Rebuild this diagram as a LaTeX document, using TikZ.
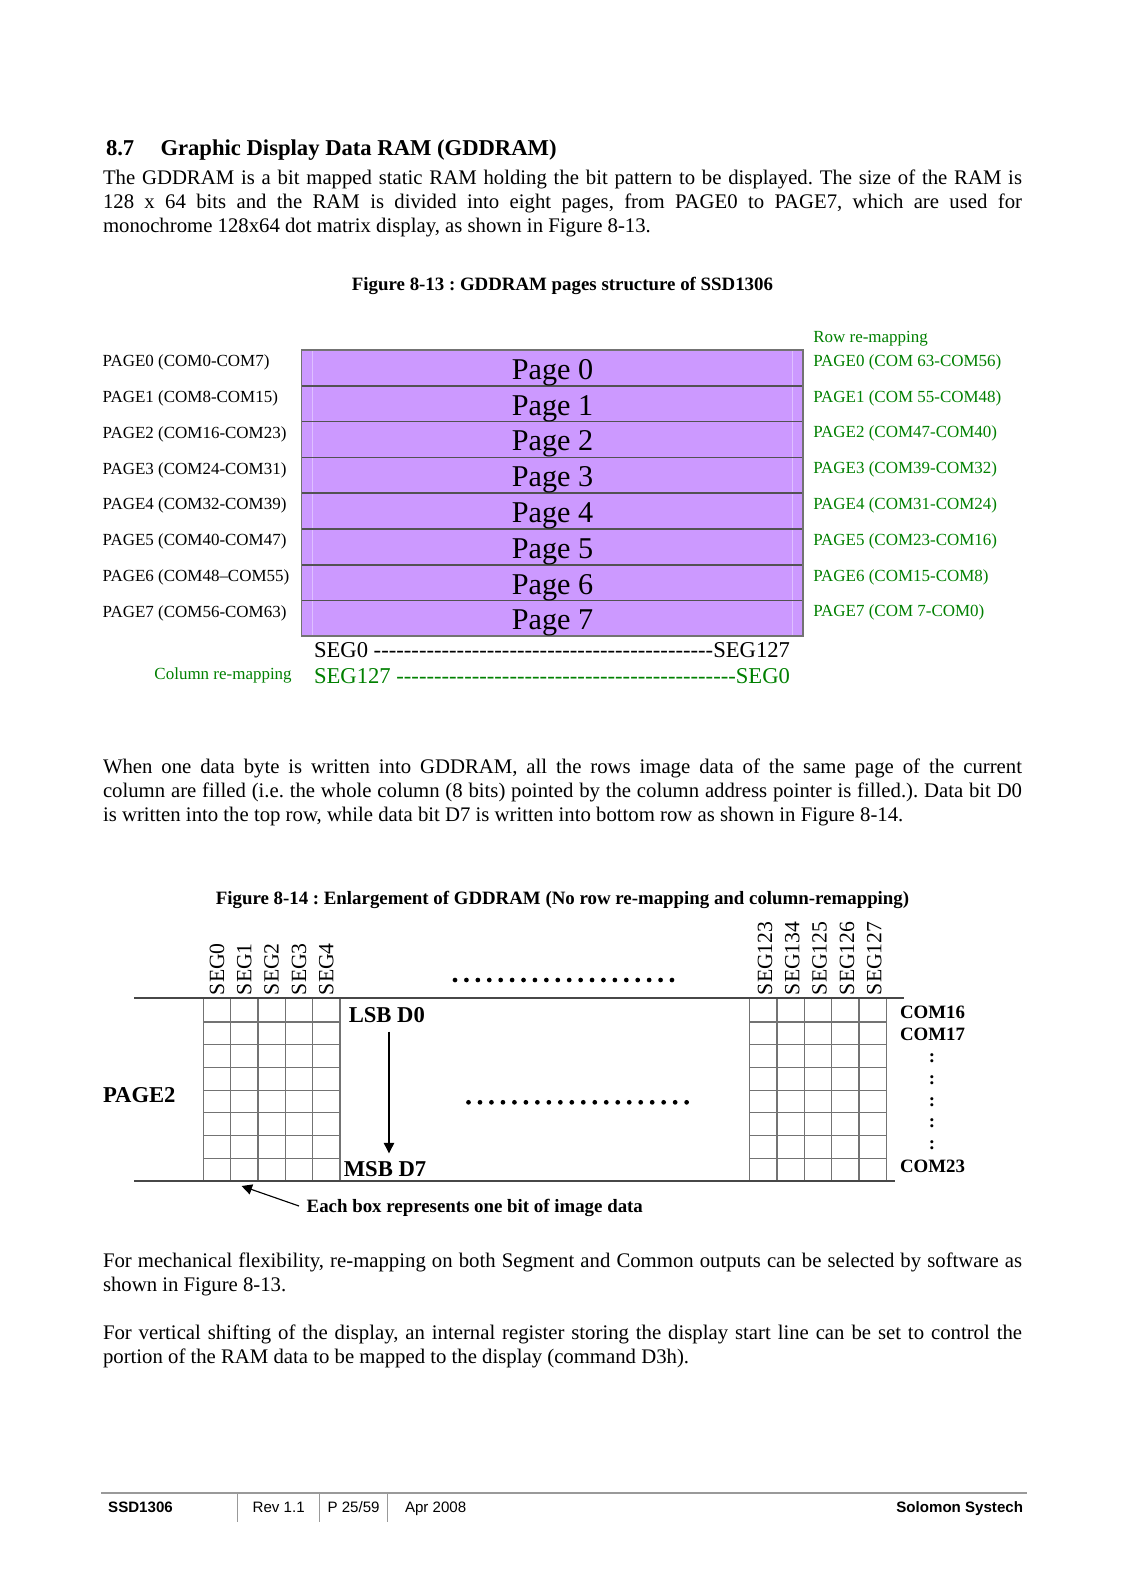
\documentclass[tikz,border=0pt]{standalone}
\usepackage{fontspec}
\setmainfont{Liberation Serif}
\newfontfamily\arialf{Liberation Sans}
\usetikzlibrary{arrows.meta}
\newdimen\pxu \pxu=0.53013pt
\frenchspacing
\definecolor{pagepurple}{HTML}{CC99FF}
\definecolor{pageline}{HTML}{DEBFFF}
\definecolor{remapgreen}{HTML}{008000}
\tikzset{
 txt/.style={inner sep=0pt, outer sep=0pt, anchor=base west},
 body/.style={txt, font=\fontsize{11}{13}\selectfont\frenchspacing},
 headtxt/.style={txt, font=\fontsize{12}{14}\selectfont\bfseries},
 captxt/.style={txt, anchor=base, font=\fontsize{10}{12}\selectfont\bfseries},
 sidelbl/.style={txt, font=\fontsize{9}{11}\selectfont},
 greenlbl/.style={sidelbl, text=remapgreen},
 pagelbl/.style={txt, anchor=base, font=\fontsize{16}{18}\selectfont},
 seglbl/.style={txt, font=\fontsize{12}{14}\selectfont},
 vseg/.style={inner sep=0pt, outer sep=0pt, anchor=west, rotate=90, font=\fontsize{11.5}{13}\selectfont},
 boldlbl/.style={txt, font=\fontsize{12}{14}\selectfont\bfseries},
 comlbl/.style={txt, font=\fontsize{10}{12}\selectfont\bfseries},
 rowline/.style={draw=black!68, line width=0.9pt},
 boxborder/.style={draw=black!55, line width=1pt},
 gridline/.style={draw=black!55, line width=0.6pt},
 rule/.style={draw=black!72, line width=0.9pt},
 arr/.style={draw=black, line width=0.6pt, -{Triangle[length=5.5pt, width=5.5pt]}},
 footline/.style={draw=black!40, line width=1.1pt},
 footsep/.style={draw=black!40, line width=0.7pt},
 foottxt/.style={txt, font=\arialf\fontsize{8}{10}\selectfont},
}
\begin{document}
\begin{tikzpicture}[x=0.53013pt, y=-0.53013pt]
\fill[white] (0,0) rectangle (1123,1593);
\useasboundingbox (0,0) rectangle (1123,1593);

% heading
\node[headtxt] (secnum) at (106,155.5) {8.7};
\node[headtxt] (sectitle) at (160.5,155.5) {Graphic Display Data RAM (GDDRAM)};

% paragraph 1
\node[body] (p1a) at (103,185) {\makebox[919\pxu][s]{The GDDRAM is a bit mapped static RAM holding the bit pattern to be displayed. The size of the RAM is}};
\node[body] (p1b) at (103,209) {\makebox[919\pxu][s]{128 x 64 bits and the RAM is divided into eight pages, from PAGE0 to PAGE7, which are used for}};
\node[body] (p1c) at (103,232.5) {monochrome 128x64 dot matrix display, as shown in Figure 8-13.};

% caption 8-13
\node[captxt] (cap13) at (562.5,290) {Figure 8-13 : GDDRAM pages structure of SSD1306};

% page box
\fill[pagepurple] (301.5,350) rectangle (803.3,636.3);
\draw[pageline, line width=0.6pt] (312.3,350) -- (312.3,636.3);
\draw[pageline, line width=0.6pt] (792.3,350) -- (792.3,636.3);
\foreach \i in {1,...,7} {
  \draw[rowline] (301.5,350+\i*35.8) -- (803.3,350+\i*35.8);
}
\draw[boxborder] (301.5,350) rectangle (803.3,636.3);
\foreach \i in {0,...,7} {
  \node[pagelbl] (pg\i) at (552.5,379.3+\i*35.8) {Page \i};
}

% left labels
\foreach \i/\t in {0/{PAGE0 (COM0-COM7)},1/{PAGE1 (COM8-COM15)},2/{PAGE2 (COM16-COM23)},3/{PAGE3 (COM24-COM31)},4/{PAGE4 (COM32-COM39)},5/{PAGE5 (COM40-COM47)},6/{PAGE6 (COM48–COM55)},7/{PAGE7 (COM56-COM63)}} {
  \node[sidelbl] (lp\i) at (102.7,366.7+\i*35.8) {\t};
}
% right labels
\node[greenlbl] (rowremap) at (813.3,342.7) {Row re-mapping};
\foreach \i/\t in {0/{PAGE0 (COM 63-COM56)},1/{PAGE1 (COM 55-COM48)},2/{PAGE2 (COM47-COM40)},3/{PAGE3 (COM39-COM32)},4/{PAGE4 (COM31-COM24)},5/{PAGE5 (COM23-COM16)},6/{PAGE6 (COM15-COM8)},7/{PAGE7 (COM 7-COM0)}} {
  \node[greenlbl] (rp\i) at (813.3,366.2+\i*35.8) {\t};
}

% seg lines
\node[seglbl] (segA) at (314,657.3) {\hbox to 476\pxu{SEG0\ \xleaders\hbox{-}\hfill SEG127}};
\node[seglbl, text=remapgreen] (segB) at (314,683.3) {\hbox to 476\pxu{SEG127\ \xleaders\hbox{-}\hfill SEG0}};
\node[greenlbl, anchor=base east] (colremap) at (291.7,679.3) {Column re-mapping};

% paragraph 2
\node[body] (p2a) at (103,773.3) {\makebox[919\pxu][s]{When one data byte is written into GDDRAM, all the rows image data of the same page of the current}};
\node[body] (p2b) at (103,797.7) {\makebox[919\pxu][s]{column are filled (i.e. the whole column (8 bits) pointed by the column address pointer is filled.). Data bit D0}};
\node[body] (p2c) at (103,821) {is written into the top row, while data bit D7 is written into bottom row as shown in Figure 8-14.};

% caption 8-14
\node[captxt] (cap14) at (562.5,904.3) {Figure 8-14 : Enlargement of GDDRAM (No row re-mapping and column-remapping)};

% figure 8-14 grids
\foreach \i in {0,...,5} {
  \draw[gridline] (203.3+\i*27.33,999.3) -- (203.3+\i*27.33,1181);
  \draw[gridline] (749.7+\i*27.33,999.3) -- (749.7+\i*27.33,1181);
}
\foreach \j in {1,...,7} {
  \draw[gridline] (203.3,999.3+\j*22.71) -- (339.95,999.3+\j*22.71);
  \draw[gridline] (749.7,999.3+\j*22.71) -- (886.35,999.3+\j*22.71);
}
\draw[rule] (134,998) -- (904,998);
\draw[rule] (134,1181) -- (895,1181);

% seg labels
\foreach \i/\t in {0/SEG0,1/SEG1,2/SEG2,3/SEG3,4/SEG4} {
  \node[vseg] (ls\i) at (217+\i*27.33,995) {\t};
}
\foreach \i/\t in {0/SEG123,1/SEG134,2/SEG125,3/SEG126,4/SEG127} {
  \node[vseg] (rs\i) at (765+\i*27.33,995) {\t};
}

% dots
\foreach \i in {0,...,19} {
  \fill (455+\i*11.42,980) circle[radius=1.25pt];
  \fill (468.5+\i*11.48,1102.3) circle[radius=1.25pt];
}

% labels in fig 8-14
\node[boldlbl] (lsb) at (348.8,1022.7) {LSB D0};
\node[boldlbl] (msb) at (343.8,1176) {MSB D7};
\coordinate (lsbA) at (389,1031.7);
\coordinate (lsbB) at (389,1153.3);
\draw[arr] (lsbA) -- (lsbB);
\node[boldlbl] (page2) at (103,1102.3) {PAGE2};
\node[comlbl] (com16) at (900,1018.3) {COM16};
\node[comlbl] (com17) at (900,1040) {COM17};
\node[comlbl] (com23) at (900,1172.7) {COM23};
\foreach \c [count=\k] in {1058.3,1080,1101.7,1123.3,1145} {
  \node[comlbl, anchor=base] (colon\k) at (932,\c+4.3) {:};
}
\node[comlbl] (eachbox) at (306.7,1212.3) {Each box represents one bit of image data};
\coordinate (eachA) at (299,1206);
\coordinate (eachB) at (241.6,1186);
\draw[arr] (eachA) -- (eachB);

% paragraphs 3 and 4
\node[body] (p3a) at (103,1267) {\makebox[919\pxu][s]{For mechanical flexibility, re-mapping on both Segment and Common outputs can be selected by software as}};
\node[body] (p3b) at (103,1291) {shown in Figure 8-13.};
\node[body] (p4a) at (103,1339) {\makebox[919\pxu][s]{For vertical shifting of the display, an internal register storing the display start line can be set to control the}};
\node[body] (p4b) at (103,1363) {portion of the RAM data to be mapped to the display (command D3h).};

% footer
\draw[footline] (101,1493.3) -- (1027,1493.3);
\foreach \x in {237.7,319.8,387.6} {
  \draw[footsep] (\x,1493.3) -- (\x,1521.7);
}
\node[foottxt, font=\arialf\fontsize{8}{10}\selectfont\bfseries] (fssd) at (108.2,1512.7) {SSD1306};
\node[foottxt] (frev) at (252.7,1512.7) {Rev 1.1};
\node[foottxt] (fpage) at (327.6,1512.7) {P 25/59};
\node[foottxt] (fdate) at (405,1512.7) {Apr 2008};
\node[foottxt, anchor=base east, font=\arialf\fontsize{8}{10}\selectfont\bfseries] (fco) at (1023,1512.7) {Solomon Systech};
\end{tikzpicture}
\end{document}
